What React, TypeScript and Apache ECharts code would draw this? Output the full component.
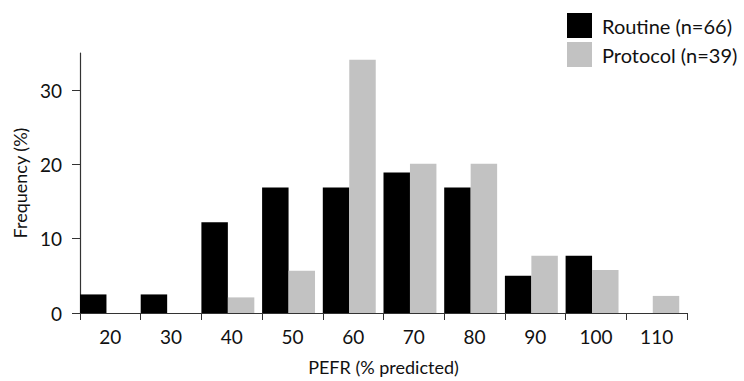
import React, { useEffect, useRef } from "react";
import * as echarts from "echarts";

const categories = ["20", "30", "40", "50", "60", "70", "80", "90", "100", "110"];
const routine = [2.5, 2.5, 12.2, 16.9, 16.9, 18.9, 16.9, 5.0, 7.7, 0];
const protocol = [0, 0, 2.1, 5.7, 34.1, 20.1, 20.1, 7.7, 5.8, 2.3];
const yTicks = [0, 10, 20, 30];
const routineName = "Routine (n=66)";
const protocolName = "Protocol (n=39)";

const FONT = "Lato";

export default function App() {
  const ref = useRef<HTMLDivElement>(null);
  useEffect(() => {
    if (!ref.current) return;
    const chart = echarts.init(ref.current, undefined, { renderer: "svg" });
    chart.setOption({
      animation: false,
      textStyle: { fontFamily: FONT },
      grid: { left: 80, right: 57, top: 53, bottom: 64, containLabel: false },
      legend: {
        data: [routineName, protocolName],
        orient: "vertical",
        left: 567,
        top: 13,
        padding: 0,
        itemWidth: 25,
        itemHeight: 25,
        itemGap: 4,
        icon: "rect",
        textStyle: { fontFamily: FONT, fontSize: 20, color: "#111", padding: [0, 0, 0, 5] },
      },
      xAxis: {
        type: "category",
        data: categories,
        boundaryGap: true,
        name: "PEFR (% predicted)",
        nameLocation: "middle",
        nameGap: 45,
        nameTextStyle: { fontFamily: FONT, fontSize: 18, color: "#111" },
        axisLine: { lineStyle: { color: "#333", width: 1.2 } },
        axisTick: { show: true, length: 7, alignWithLabel: false, lineStyle: { color: "#333" } },
        axisLabel: { fontFamily: FONT, fontSize: 19, color: "#111", margin: 14 },
        splitLine: { show: false },
      },
      yAxis: {
        type: "value",
        min: 0,
        max: 35,
        interval: 10,
        name: "Frequency (%)",
        nameLocation: "middle",
        nameGap: 50,
        nameTextStyle: { fontFamily: FONT, fontSize: 18, color: "#111" },
        axisLine: { show: true, lineStyle: { color: "#333", width: 1.2 } },
        axisTick: { show: true, length: 8, customValues: yTicks, lineStyle: { color: "#333" } },
        axisLabel: { fontFamily: FONT, fontSize: 19, color: "#111", margin: 18, customValues: yTicks },
        splitLine: { show: false },
      },
      series: [
        {
          name: routineName,
          type: "bar",
          data: routine,
          barWidth: "43.6%",
          barGap: "0%",
          itemStyle: { color: "#000" },
        },
        {
          name: protocolName,
          type: "bar",
          data: protocol,
          barWidth: "43.6%",
          barGap: "0%",
          itemStyle: { color: "#c2c2c2" },
        },
        {
          name: "spacer",
          type: "bar",
          data: categories.map(() => "-"),
          barWidth: "12.8%",
          barGap: "0%",
          itemStyle: { color: "transparent" },
        },
      ],
    });
    return () => chart.dispose();
  }, []);
  return (
    <div
      ref={ref}
      style={{ position: "fixed", left: 0, top: 0, width: 744, height: 381, background: "#fff" }}
    />
  );
}
